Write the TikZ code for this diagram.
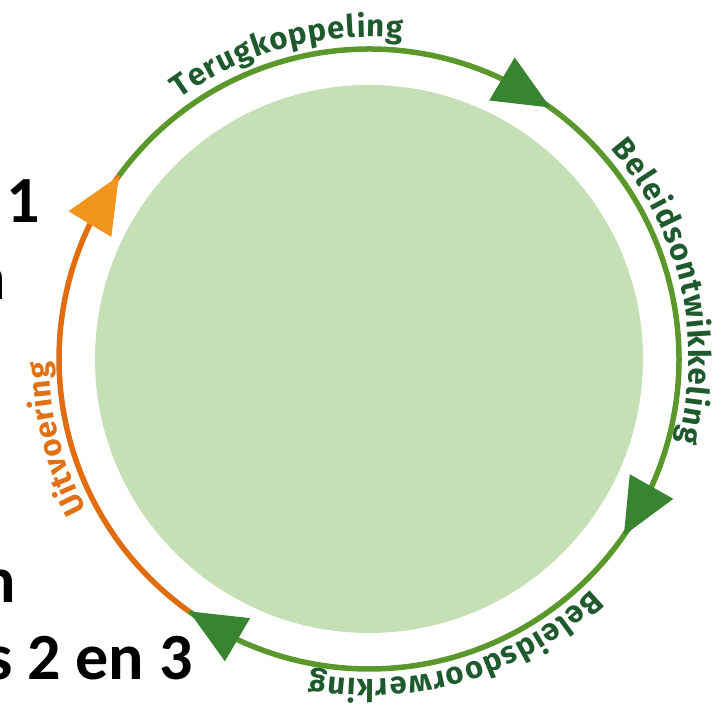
\documentclass[tikz,border=0pt]{standalone}
\usepackage{fontspec}
\setmainfont{Fira Sans}
\newfontfamily\arcfont{Fira Sans}
\newfontfamily\bigfont{Carlito}
\usetikzlibrary{calc,decorations.text}
\definecolor{innerfill}{RGB}{197,224,180}
\definecolor{ringgreen}{RGB}{90,152,44}
\definecolor{arrowgreen}{RGB}{56,132,48}
\definecolor{textgreen}{RGB}{30,90,46}
\definecolor{orangeline}{RGB}{226,108,16}
\definecolor{orangearrow}{RGB}{240,150,30}
\definecolor{orangetext}{RGB}{226,112,20}
\tikzset{
  ringline/.style={line width=5.5pt, draw=ringgreen},
  orangering/.style={line width=5.5pt, draw=orangeline},
  bigtext/.style={font=\bigfont\bfseries\fontsize{66}{70}\selectfont, inner sep=0pt, text=black},
}
\newcommand\ringarrow[3]{%
  \coordinate (#1tip) at ($(C)+({#2}:310)$);
  \coordinate (#1back) at ($(C)+({#2+10.4}:310)$);
  \fill[#3] (#1tip) -- ($(#1back)!25pt!90:(#1tip)$) -- ($(#1back)!25pt!-90:(#1tip)$) -- cycle;
}
\newcommand\arclabel[5]{% color, text, start, end, radius
  \path[decorate, decoration={text along path,
     text={|\arcfont\bfseries\fontsize{31}{34}\selectfont\color{#1}|#2},
     text align=fit to path}]
     ($(C)+({#3}:#5)$) arc[start angle=#3, end angle=#4, radius=#5];
}
\begin{document}
\begin{tikzpicture}[x=1pt,y=1pt]
\useasboundingbox (0,0) rectangle (723,708);
\clip (0,0) rectangle (723,708);
\coordinate (C) at (369,349);
% inner disc
\fill[innerfill] (C) circle[radius=274];
% ring segments
\draw[ringline] ($(C)+(143.8:310)$) arc[start angle=143.8, end angle=54.2, radius=310];
\draw[ringline] ($(C)+(54.2:310)$) arc[start angle=54.2, end angle=-34.7, radius=310];
\draw[ringline] ($(C)+(-34.7:310)$) arc[start angle=-34.7, end angle=-125.5, radius=310];
\draw[orangering] ($(C)+(-125.5:310)$) arc[start angle=-125.5, end angle=-216.2, radius=310];
% arrowheads
\ringarrow{a1}{54.2}{arrowgreen}
\ringarrow{a2}{-34.7}{arrowgreen}
\ringarrow{a3}{-125.5}{arrowgreen}
\ringarrow{a4}{143.8}{orangearrow}
% labels along ring
\arclabel{textgreen}{Terugkoppeling}{126}{84}{322}
\arclabel{textgreen}{Beleidsontwikkeling}{41}{-15}{320}
\arclabel{textgreen}{Beleidsdoorwerking}{-46}{-100.5}{320}
\arclabel{orangetext}{Uitvoering}{208}{180.5}{320}
% cut-off text on the left
\node[bigtext, anchor=base east] (t1) at (40,485) {1};
\node[bigtext, anchor=base east] (t2) at (6,408) {n};
\node[bigtext, anchor=base east] (t3) at (16,105) {n};
\node[bigtext, anchor=base east] (t4) at (193,28) {s 2 en 3};
\end{tikzpicture}
\end{document}
